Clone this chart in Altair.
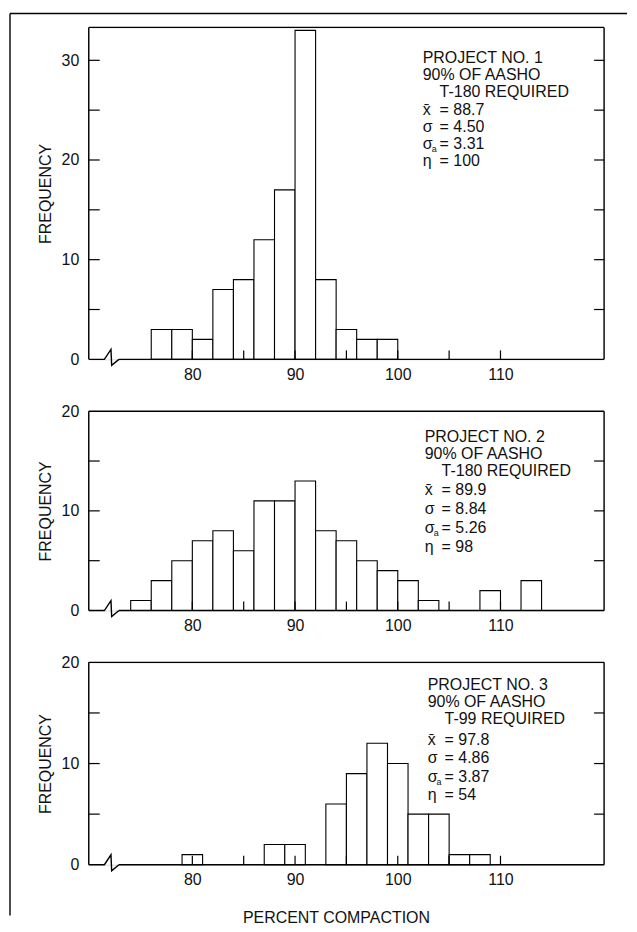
import altair as alt
import pandas as pd

# ---------------- data ----------------
BIN_W = 2
p1_start = [76, 78, 80, 82, 84, 86, 88, 90, 92, 94, 96, 98]
p1_freq = [3, 3, 2, 7, 8, 12, 17, 33, 8, 3, 2, 2]

p2_start = [74, 76, 78, 80, 82, 84, 86, 88, 90, 92, 94, 96, 98, 100, 102, 108, 112]
p2_freq = [1, 3, 5, 7, 8, 6, 11, 11, 13, 8, 7, 5, 4, 3, 1, 2, 3]

p3_start = [79, 87, 89, 93, 95, 97, 99, 101, 103, 105, 107]
p3_freq = [1, 2, 2, 6, 9, 12, 10, 5, 5, 1, 1]

p1_head = ["PROJECT NO. 1", "90% OF AASHO", "T-180 REQUIRED"]
p2_head = ["PROJECT NO. 2", "90% OF AASHO", "T-180 REQUIRED"]
p3_head = ["PROJECT NO. 3", "90% OF AASHO", "T-99 REQUIRED"]
stat_symbols = ["x\u0304", "\u03c3", "\u03c3", "\u03b7"]
p1_stats = ["88.7", "4.50", "3.31", "100"]
p2_stats = ["89.9", "8.84", "5.26", "98"]
p3_stats = ["97.8", "4.86", "3.87", "54"]

x_labels = [80, 90, 100, 110]
x_ticks = [80, 85, 90, 95, 100, 105, 110]
p1_ylabels = [0, 10, 20, 30]
p1_yticks = [5, 10, 15, 20, 25, 30]
p23_ylabels = [0, 10, 20]
p23_yticks = [5, 10, 15]
X_DOMAIN = [70.4, 119.6]

# ---------------- layout ----------------
FONT = "Liberation Sans"
W = 517
BREAK_PATH = "M -2.3 0 L -0.73 0 L -0.07 -1 L 0 0.6 L 0.73 0"
one = pd.DataFrame({"d": [0]})


def rule(**enc):
    return alt.Chart(one).mark_rule(color="black", strokeWidth=1.4).encode(**enc)


def txt(s, x, y, size=16):
    return alt.Chart(pd.DataFrame({"t": [s]})).mark_text(
        align="left", baseline="middle", fontSize=size, font=FONT, color="#111"
    ).encode(x=alt.value(x), y=alt.value(y), text="t:N")


def panel(starts, freqs, head, stats, ymax, H, ylabels, yticks, xl, hy, hs, sy, ss,
          xtitle=None, border=False):
    df = pd.DataFrame({"start": starts, "freq": freqs})
    df["end"] = df["start"] + BIN_W
    xs = alt.Scale(domain=X_DOMAIN, nice=False, zero=False)
    ys = alt.Scale(domain=[0, ymax], nice=False, zero=True)

    xaxis_kw = dict(values=x_labels, ticks=False, domain=False, grid=False,
                    labelPadding=7, labelFontSize=16, labelFont=FONT,
                    labelColor="#111")
    if xtitle:
        xaxis_kw.update(title=xtitle, titleFontSize=16, titleFont=FONT,
                        titleFontWeight="normal", titleColor="#111",
                        titlePadding=22, titleX=248)
    else:
        xaxis_kw.update(title=None)
    xaxis = alt.Axis(**xaxis_kw)
    yaxis = alt.Axis(values=ylabels, ticks=False, domain=False, grid=False,
                     labelPadding=10, labelFontSize=16, labelFont=FONT,
                     labelColor="#111", title="FREQUENCY",
                     titleFontSize=16, titleFont=FONT,
                     titleFontWeight="normal", titleColor="#111",
                     titlePadding=8)

    bars = alt.Chart(df).mark_bar(fill="white", stroke="black", strokeWidth=1.1,
                                  orient="vertical").encode(
        x=alt.X("start:Q", scale=xs, axis=xaxis),
        x2="end:Q",
        y=alt.Y("freq:Q", scale=ys, axis=yaxis),
        y2=alt.datum(0),
    )

    ytk = pd.DataFrame({"v": yticks})
    xtk = pd.DataFrame({"v": x_ticks})
    left_t = alt.Chart(ytk).mark_rule(color="black", strokeWidth=1.2).encode(
        y=alt.Y("v:Q", scale=ys, axis=yaxis), x=alt.value(0), x2=alt.value(11))
    right_t = alt.Chart(ytk).mark_rule(color="black", strokeWidth=1.2).encode(
        y=alt.Y("v:Q", scale=ys, axis=yaxis), x=alt.value(W - 10), x2=alt.value(W))
    bottom_t = alt.Chart(xtk).mark_rule(color="black", strokeWidth=1.2).encode(
        x=alt.X("v:Q", scale=xs, axis=xaxis), y=alt.value(H), y2=alt.value(H - 9))

    frame = [
        rule(x=alt.value(0), x2=alt.value(W), y=alt.value(0)),
        rule(x=alt.value(0), y=alt.value(0), y2=alt.value(H)),
        rule(x=alt.value(W), y=alt.value(0), y2=alt.value(H)),
        rule(x=alt.value(30.3), x2=alt.value(W), y=alt.value(H)),
        alt.Chart(one).mark_point(shape=BREAK_PATH, size=400, filled=False,
                                  color="black", strokeWidth=1.4, opacity=1).encode(
            x=alt.value(23), y=alt.value(H)),
    ]

    texts = [
        txt(head[0], xl, hy),
        txt(head[1], xl, hy + hs),
        txt(head[2], xl + 17, hy + 2 * hs),
    ]
    for i, (sym, val) in enumerate(zip(stat_symbols, stats)):
        yy = sy + i * ss
        texts.append(txt(sym, xl, yy))
        if i == 2:
            texts.append(txt("a", xl + 9, yy + 5, size=9))
        texts.append(txt("= " + val, xl + 17, yy))

    layers = [bars, left_t, right_t, bottom_t] + frame + texts
    if border:
        layers += [
            rule(x=alt.value(-79), x2=alt.value(540), y=alt.value(-14)),
            rule(x=alt.value(-79), y=alt.value(-14), y2=alt.value(891)),
        ]
    return alt.layer(*layers).properties(width=W, height=H)


p1 = panel(p1_start, p1_freq, p1_head, p1_stats, 33.3, 333, p1_ylabels, p1_yticks,
           335, 31, 17, 83, 17, border=True)
p2 = panel(p2_start, p2_freq, p2_head, p2_stats, 20, 200, p23_ylabels, p23_yticks,
           337, 26, 17, 79, 19)
p3 = panel(p3_start, p3_freq, p3_head, p3_stats, 20, 203, p23_ylabels, p23_yticks,
           340, 23, 17, 78, 18.3, xtitle="PERCENT COMPACTION")

chart = alt.vconcat(p1, p2, p3, spacing=52, bounds="flush").properties(
    padding={"left": 0, "top": 2, "right": 0, "bottom": 0}
).configure_view(stroke=None).configure(font=FONT)

chart.save("out.html", embed_options={"renderer": "svg", "actions": False})
